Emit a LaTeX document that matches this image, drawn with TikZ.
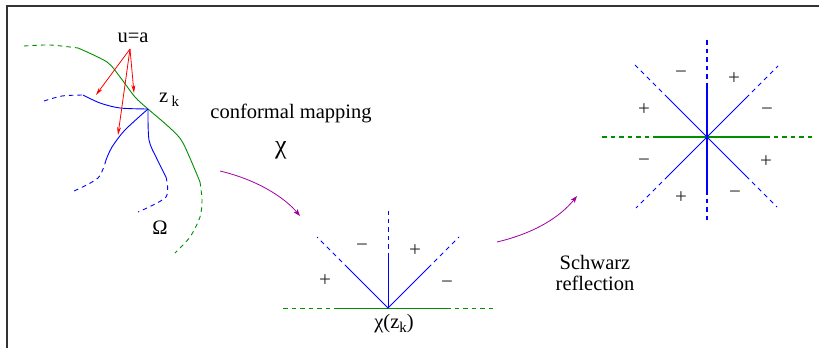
\documentclass[tikz,border=0pt]{standalone}
\usepackage{fontspec}
\setmainfont{Liberation Serif}
\usetikzlibrary{arrows.meta}
\definecolor{fgreen}{rgb}{0,0.56,0}
\definecolor{fpurple}{rgb}{0.63,0,0.63}
\begin{document}
\begin{tikzpicture}[x=1pt,y=-1pt,
 bl/.style={draw=blue,line width=0.9pt},
 gr/.style={draw=fgreen,line width=0.9pt},
 blr/.style={draw=blue,line width=1.15pt},
 grr/.style={draw=fgreen,line width=1.15pt},
 dsh/.style={dash pattern=on 4.5pt off 4pt},
 redarr/.style={red,line width=0.8pt,-{Stealth[length=8pt,width=4pt]}},
 purarr/.style={fpurple,line width=0.8pt,-{Stealth[length=7pt,width=5pt,inset=2pt]}},
 lbl/.style={inner sep=0pt,font=\fontsize{20.5}{21}\selectfont},
 sgn/.style={inner sep=0pt,font=\fontsize{21}{21}\selectfont,text=black!85}]
\useasboundingbox (0,0) rectangle (819,348);
% frame
\draw[line width=1.5pt,black!80] (7,348) -- (7,6) -- (819,6);

% ---------- right figure ----------
\coordinate (ctr) at (707,137);
\coordinate (hL2) at (602,137); \coordinate (hL1) at (653,137);
\coordinate (hR1) at (765,137); \coordinate (hR2) at (812,137);
\coordinate (vU2) at (707,40); \coordinate (vU1) at (707,84);
\coordinate (vD1) at (707,190); \coordinate (vD2) at (707,220);
\draw[grr,dsh] (hL2) -- (hL1) (hR1) -- (hR2);
\draw[grr] (hL1) -- (hR1);
\draw[blr,dsh] (vU2) -- (vU1) (vD1) -- (vD2);
\draw[blr] (vU1) -- (vD1);
\coordinate (dNW1) at (668,98); \coordinate (dNW2) at (635,65);
\coordinate (dSE1) at (746,176); \coordinate (dSE2) at (777,207);
\coordinate (dNE1) at (746,98); \coordinate (dNE2) at (778,66);
\coordinate (dSW1) at (668,176); \coordinate (dSW2) at (636,208);
\draw[bl] (dNW1) -- (dSE1);
\draw[bl] (dSW1) -- (dNE1);
\draw[bl,dsh] (dNW1) -- (dNW2);
\draw[bl,dsh] (dSE1) -- (dSE2);
\draw[bl,dsh] (dNE1) -- (dNE2);
\draw[bl,dsh] (dSW1) -- (dSW2);

% ---------- left figure ----------
\draw[gr,dsh] plot[smooth] coordinates {(24,46) (50,45) (78,48)};
\draw[gr] plot[smooth] coordinates {(78,48) (107,62) (120,77) (135,97) (148,109) (170,128) (183,143) (200,182)};
\draw[gr,dsh] plot[smooth] coordinates {(200,182) (202,200) (200,217) (190,237) (175,253)};

\coordinate (zk) at (148,109);
\draw[bl,dsh] plot[smooth] coordinates {(44,101) (62,96) (83,95)};
\draw[bl] plot[smooth] coordinates {(83,95) (100,103) (120,108) (148,109)};
\draw[bl] plot[smooth] coordinates {(148,109) (125,130) (112,147) (106,160)};
\draw[bl,dsh] plot[smooth] coordinates {(106,160) (98,178) (74,191)};
\draw[bl] plot[smooth] coordinates {(148,109) (149,140) (157,159) (166,177)};
\draw[bl,dsh] plot[smooth] coordinates {(166,177) (166,197) (138,212)};

\node[lbl] (ua) at (133,38) {u=a};
\coordinate (ra) at (130,49);
\coordinate (r1) at (96,95);
\coordinate (r2) at (134,93);
\coordinate (r3) at (118,135);
\draw[redarr] (ra) -- (r1);
\draw[redarr] (ra) -- (r2);
\draw[redarr] (ra) -- (r3);

\node[lbl,anchor=base west] (zkl) at (159,102) {z\,\raisebox{-4pt}{\fontsize{15}{15}\selectfont k}};
\node[lbl] (om) at (160,228) {Ω};

% ---------- texts ----------
\node[lbl,anchor=base] (conf) at (291,118) {conformal mapping};
\node[inner sep=0pt,font=\fontsize{26}{26}\selectfont] (chi) at (281,150) {χ};
\node[lbl,anchor=base] (schw) at (595,269) {Schwarz};
\node[lbl,anchor=base] (refl) at (595,290) {reflection};

% ---------- arrows ----------
\coordinate (p1s) at (220,171);
\coordinate (p1e) at (300,216);
\draw[purarr] (p1s) .. controls (258,180) and (285,198) .. (p1e);
\coordinate (p2s) at (497,242);
\coordinate (p2e) at (577,196);
\draw[purarr] (p2s) .. controls (535,233) and (560,217) .. (p2e);

% ---------- middle figure ----------
\coordinate (m) at (388,308);
\coordinate (mL2) at (283,308); \coordinate (mL1) at (335,308);
\coordinate (mR1) at (446,308); \coordinate (mR2) at (493,308);
\draw[gr,dsh] (mL2) -- (mL1);
\draw[gr] (mL1) -- (mR1);
\draw[gr,dsh] (mR1) -- (mR2);
\coordinate (mU1) at (388,257); \coordinate (mU2) at (388,211);
\coordinate (mA1) at (348,268); \coordinate (mA2) at (317,237);
\coordinate (mB1) at (428,268); \coordinate (mB2) at (459,237);
\draw[bl] (m) -- (mU1); \draw[bl,dsh] (mU1) -- (mU2);
\draw[bl] (m) -- (mA1); \draw[bl,dsh] (mA1) -- (mA2);
\draw[bl] (m) -- (mB1); \draw[bl,dsh] (mB1) -- (mB2);
\node[sgn] (ms1) at (362,248) {−};
\node[sgn] (ms2) at (415,251) {+};
\node[sgn] (ms3) at (325,281) {+};
\node[sgn] (ms4) at (447,285) {−};
\node[lbl,anchor=base] (chizk) at (394,328) {χ(z\raisebox{-4pt}{\fontsize{15}{15}\selectfont k})};

\node[sgn] (rs1) at (681,75) {−};
\node[sgn] (rs2) at (734,79) {+};
\node[sgn] (rs3) at (644,110) {+};
\node[sgn] (rs4) at (767,112) {−};
\node[sgn] (rs5) at (644,163) {−};
\node[sgn] (rs6) at (766,162) {+};
\node[sgn] (rs7) at (681,198) {+};
\node[sgn] (rs8) at (735,195) {−};
\end{tikzpicture}
\end{document}
